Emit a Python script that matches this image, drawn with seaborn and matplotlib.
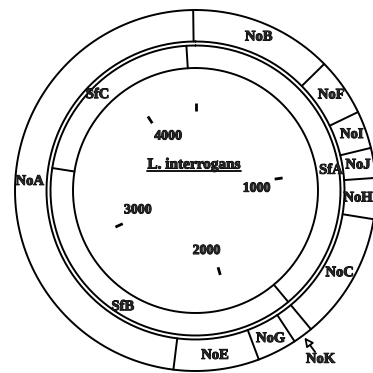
import numpy as np
import pandas as pd
import seaborn as sns
import matplotlib.pyplot as plt
import matplotlib.patheffects as pe

# --- DATA (kb positions on the circular map) ---
genome_kb = 4400

noti_names = ["NoB", "NoF", "NoI", "NoJ", "NoH", "NoC", "NoK", "NoG", "NoE", "NoA"]
noti_starts = [4391, 556, 785, 933, 1051, 1212, 1714, 1793, 1949, 2286]

sfi_names = ["SfA", "SfB", "SfC"]
sfi_starts = [4356, 1714, 3409]
sfi_label_kb = [996, 2591, 3843]

tick_kb = [0, 1000, 2000, 3000, 4000]
tick_labels = ["", "1000", "2000", "3000", "4000"]

title = "L. interrogans"

# --- THEME ---
sns.set_theme(style="white")
plt.rcParams["font.family"] = ["Liberation Serif", "DejaVu Serif"]
plt.rcParams["font.weight"] = "bold"

# ring radii (in pixels)
R_IN, R_SF, R_NO_IN, R_NO_OUT = 122.5, 145, 149, 180.5
XMAX = 177.5
heavy = [pe.withStroke(linewidth=0.7, foreground="black")]


def ang(kb):
    return np.asarray(kb) / genome_kb * 2 * np.pi


def xy(kb, r):
    a = ang(kb)
    return r * np.sin(a), r * np.cos(a)


def label(x, y, s, size=10.5, **kw):
    return ax.text(x, y, s, ha="center", va="center", fontsize=size,
                   fontweight="bold", path_effects=heavy, **kw)


fig = plt.figure(figsize=(3.73, 3.73), dpi=100)
ax = fig.add_axes([0, 0, 1, 1])
ax.set_xlim(-195.5, XMAX)
ax.set_ylim(-182.5, 190.5)
ax.set_axis_off()

# circles
t = np.linspace(0, genome_kb, 400)
rows = []
for i, r in enumerate([R_IN, R_SF, R_NO_IN, R_NO_OUT]):
    x, y = xy(t, r)
    rows.append(pd.DataFrame({"x": x, "y": y, "u": f"c{i}"}))

# fragment boundaries
for k in noti_starts:
    x, y = xy([k, k], [R_NO_IN, R_NO_OUT])
    rows.append(pd.DataFrame({"x": x, "y": y, "u": f"n{k}"}))
for k in sfi_starts:
    x, y = xy([k, k], [R_IN, R_SF])
    rows.append(pd.DataFrame({"x": x, "y": y, "u": f"s{k}"}))
lines = pd.concat(rows, ignore_index=True)
sns.lineplot(data=lines, x="x", y="y", units="u", estimator=None, sort=False,
             color="black", lw=1.4, ax=ax, legend=False)

# scale ticks
for k in tick_kb:
    x, y = xy([k, k], [80, 88])
    ax.plot(x, y, color="black", lw=2.0, solid_capstyle="butt")
for k, lab in zip(tick_kb, tick_labels):
    if lab:
        a = k + 6 / 360 * genome_kb
        x, y = xy(a, 61)
        label(x, y, lab, size=10)

# NotI labels
ends = noti_starts[1:] + noti_starts[:1]
for name, s, e in zip(noti_names, noti_starts, ends):
    if e < s:
        e += genome_kb
    mid = (s + e) / 2
    if name == "NoK":
        # small fragment: label outside the ring with an arrow
        tx, ty = xy(mid, 210)
        ax0, ay0 = xy(mid, 201)
        px, py = xy(mid, 183)
        ax.annotate("", xy=(px, py), xytext=(ax0, ay0),
                    arrowprops=dict(arrowstyle="-|>", fc="white", ec="black",
                                    lw=1.3, mutation_scale=13, shrinkA=0, shrinkB=0))
        label(tx, ty, name)
        continue
    x, y = xy(mid, 166)
    x = min(x, XMAX - 15)
    label(x, y, name)

# SfiI labels
for name, k in zip(sfi_names, sfi_label_kb):
    x, y = xy(k, 137)
    label(x, y, name)

# centre title, underlined
tt = label(-1.5, 25.5, title, size=11)
fig.canvas.draw()
bb = tt.get_window_extent().transformed(ax.transData.inverted())
ax.plot([bb.x0, bb.x1], [bb.y0 + 1, bb.y0 + 1], color="black", lw=1.3)

fig.savefig("out.png", dpi=100)
